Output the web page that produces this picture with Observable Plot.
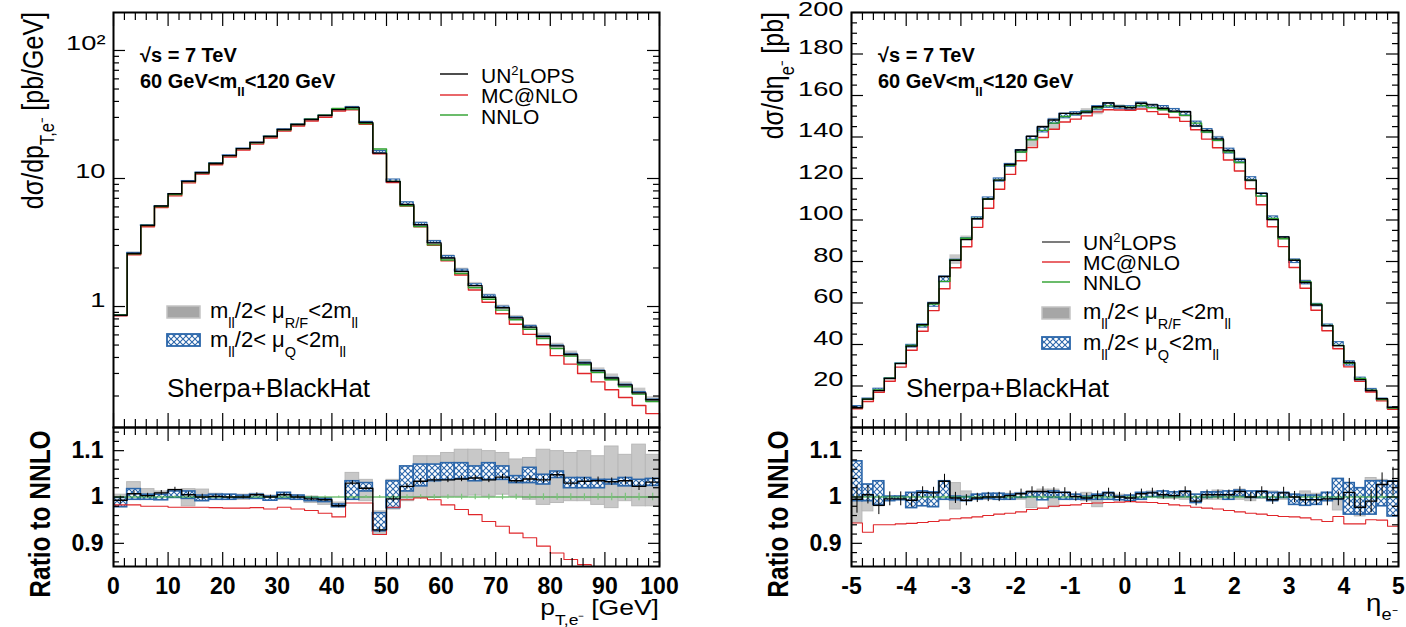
<!DOCTYPE html>
<html><head><meta charset="utf-8">
<script src="https://cdn.jsdelivr.net/npm/d3@7"></script>
<script src="https://cdn.jsdelivr.net/npm/@observablehq/plot@0.6"></script>
<style>
html,body{margin:0;padding:0;background:#fff;}
#root{position:relative;width:1406px;height:627px;overflow:hidden;font-family:"Liberation Sans",Arial,sans-serif;}
#root svg{position:absolute;overflow:visible;}
</style></head><body><div id="root"></div>
<script>
// ---------------- DATA ----------------
// Left: electron transverse momentum, 2.5 GeV bins
const ptEdges = [0,2.5,5,7.5,10,12.5,15,17.5,20,22.5,25,27.5,30,32.5,35,37.5,40,42.5,45,47.5,50,52.5,55,57.5,60,62.5,65,67.5,70,72.5,75,77.5,80,82.5,85,87.5,90,92.5,95,97.5,100];
const ptNNLO = [0.86,2.58,4.29,6.05,7.48,9.45,11.1,13.1,15.1,17.1,19.0,21.3,24.0,26.4,29.0,31.2,35.2,34.9,26.9,17.0,9.5,6.12,4.21,3.03,2.31,1.81,1.40,1.14,0.937,0.788,0.664,0.562,0.470,0.410,0.351,0.305,0.268,0.236,0.207,0.181];
const ptUNratio = [0.993,1.007,1.003,1.009,1.016,1.005,1.000,1.001,1.000,1.000,1.005,1.000,1.005,1.000,0.996,0.994,0.981,1.030,1.019,0.929,0.996,1.023,1.034,1.037,1.037,1.039,1.041,1.037,1.043,1.035,1.039,1.037,1.048,1.030,1.034,1.035,1.033,1.035,1.023,1.032];
const ptMCratio = [0.983,0.983,0.980,0.980,0.978,0.978,0.978,0.977,0.976,0.976,0.977,0.974,0.978,0.974,0.971,0.965,0.957,0.987,0.987,0.919,0.978,0.994,0.998,0.994,0.983,0.973,0.962,0.947,0.937,0.922,0.912,0.894,0.879,0.865,0.854,0.845,0.835,0.825,0.815,0.805];
const ptRFlo = [0.978,0.994,0.994,0.998,1.003,0.980,0.994,0.994,0.996,0.994,0.998,0.993,0.994,0.994,0.987,0.983,0.978,0.998,0.991,0.919,0.973,0.991,0.998,0.998,1.001,1.001,1.003,1.001,1.005,1.001,0.994,0.983,0.987,0.991,0.991,0.983,0.976,0.991,0.980,0.980];
const ptRFhi = [1.005,1.032,1.017,1.012,1.016,1.017,1.016,1.007,1.005,1.005,1.007,1.003,1.009,1.004,1.001,0.998,0.988,1.052,1.037,0.969,1.037,1.066,1.088,1.088,1.095,1.102,1.102,1.099,1.095,1.081,1.084,1.102,1.099,1.095,1.099,1.088,1.109,1.091,1.113,1.091];
const ptQlo = [0.978,0.994,0.994,0.993,0.998,0.996,0.991,0.994,0.994,0.997,0.996,0.992,0.996,0.994,0.991,0.989,0.978,0.994,1.012,0.926,0.976,1.012,1.023,1.034,1.037,1.039,1.034,1.037,1.037,1.030,1.030,1.027,1.041,1.019,1.019,1.019,1.027,1.023,1.023,1.024];
const ptQhi = [0.998,1.017,1.005,1.005,1.012,1.012,1.003,1.005,1.005,1.003,1.005,1.001,1.009,1.003,0.998,0.996,0.984,1.034,1.030,0.965,1.034,1.066,1.070,1.070,1.073,1.073,1.066,1.073,1.066,1.045,1.063,1.048,1.055,1.041,1.041,1.037,1.037,1.041,1.037,1.039];
const ptUNerr = [0.008,0.006,0.005,0.005,0.005,0.006,0.006,0.005,0.005,0.004,0.004,0.004,0.004,0.004,0.004,0.004,0.004,0.005,0.005,0.006,0.006,0.006,0.006,0.006,0.006,0.006,0.006,0.006,0.006,0.006,0.007,0.007,0.007,0.007,0.008,0.008,0.008,0.008,0.009,0.010];
const ptNNerr = [0.004,0.002,0.002,0.002,0.002,0.002,0.002,0.002,0.002,0.002,0.002,0.002,0.002,0.002,0.002,0.002,0.002,0.002,0.003,0.003,0.004,0.005,0.005,0.005,0.005,0.006,0.006,0.006,0.006,0.006,0.006,0.007,0.007,0.007,0.007,0.007,0.008,0.008,0.008,0.008];

// Right: electron pseudorapidity, 0.2 bins
const etaEdges = [-5,-4.8,-4.6,-4.4,-4.2,-4,-3.8,-3.6,-3.4,-3.2,-3,-2.8,-2.6,-2.4,-2.2,-2,-1.8,-1.6,-1.4,-1.2,-1,-0.8,-0.6,-0.4,-0.2,0,0.2,0.4,0.6,0.8,1,1.2,1.4,1.6,1.8,2,2.2,2.4,2.6,2.8,3,3.2,3.4,3.6,3.8,4,4.2,4.4,4.6,4.8,5];
const etaNNLO = [9.6,13.6,18.1,23.7,30.9,39.5,49.1,59.5,70.4,80.8,91.2,100.8,110.1,119.2,126.4,132.8,138.7,143.2,146.7,149.9,151.2,152.3,154.1,155.0,154.7,154.4,155.2,154.1,153.1,152.0,150.4,146.7,142.4,138.4,132.8,127.7,119.2,111.5,100.8,91.0,80.6,70.3,59.4,49.2,39.6,31.0,23.6,18.0,13.5,9.4];
const etaUNratio = [0.995,1.005,0.982,0.996,0.996,0.993,1.010,1.009,1.034,0.998,0.993,0.998,1.000,1.000,1.003,1.007,1.012,1.012,1.010,1.010,1.001,0.998,1.003,1.009,1.000,0.998,1.007,1.009,1.005,1.003,1.012,0.991,1.005,1.005,1.005,1.012,1.000,1.012,0.994,1.009,1.000,0.994,0.994,0.996,0.996,1.010,0.978,0.991,1.027,1.034];
const etaMCratio = [0.944,0.924,0.940,0.940,0.942,0.943,0.945,0.947,0.950,0.953,0.955,0.957,0.960,0.963,0.965,0.968,0.973,0.976,0.980,0.982,0.983,0.986,0.987,0.988,0.989,0.990,0.989,0.988,0.986,0.983,0.981,0.978,0.976,0.974,0.971,0.968,0.965,0.963,0.960,0.958,0.957,0.955,0.951,0.947,0.958,0.942,0.942,0.951,0.950,0.937];
const etaRFlo = [0.944,0.969,0.980,0.993,0.994,0.991,0.991,0.991,0.994,0.973,0.991,0.994,0.994,0.996,0.997,0.994,0.976,0.994,0.978,0.994,0.994,0.991,0.978,0.996,0.994,0.994,0.996,1.000,0.996,0.996,0.994,0.991,0.994,0.994,0.996,0.994,0.991,0.996,0.994,0.994,0.991,0.998,0.993,0.991,0.971,0.969,0.958,0.969,0.994,0.958];
const etaRFhi = [0.994,0.991,1.030,1.000,1.001,1.003,1.005,1.003,1.019,1.030,1.012,1.005,1.005,1.007,1.007,1.009,1.012,1.016,1.016,1.005,1.005,1.009,1.005,1.007,1.005,1.003,1.007,1.012,1.007,1.007,1.009,1.005,1.010,1.014,1.010,1.016,1.005,1.010,1.012,1.009,1.005,1.012,1.007,1.009,1.012,1.016,0.987,1.041,1.037,1.034];
const etaQlo = [0.991,0.991,0.983,0.991,0.993,0.976,0.980,0.978,0.994,0.993,0.991,0.994,0.996,0.994,0.994,0.998,1.000,0.993,0.998,0.994,0.994,0.994,0.994,0.994,0.993,0.991,0.994,1.000,1.000,1.000,1.000,0.987,0.998,1.000,0.994,1.001,0.998,0.998,0.991,0.998,0.983,0.981,0.983,0.991,0.994,0.962,0.962,0.962,0.980,0.958];
const etaQhi = [1.077,1.027,1.034,1.001,1.001,1.009,1.012,1.010,1.034,1.001,1.000,1.005,1.007,1.007,1.005,1.007,1.010,1.010,1.012,1.009,1.005,1.001,1.005,1.009,1.001,1.003,1.009,1.009,1.012,1.010,1.012,1.005,1.010,1.010,1.012,1.014,1.012,1.012,1.009,1.009,1.005,1.003,1.003,1.009,1.039,1.030,1.019,1.034,1.034,1.034];
const etaUNerr = [0.03,0.02,0.02,0.015,0.015,0.015,0.012,0.012,0.015,0.012,0.012,0.01,0.01,0.01,0.01,0.01,0.01,0.01,0.01,0.01,0.01,0.01,0.01,0.01,0.01,0.01,0.01,0.01,0.01,0.01,0.01,0.01,0.01,0.01,0.01,0.01,0.01,0.01,0.01,0.012,0.012,0.012,0.012,0.015,0.015,0.03,0.02,0.025,0.025,0.03];
const etaNNerr = [0.004,0.004,0.004,0.004,0.004,0.004,0.004,0.004,0.004,0.004,0.004,0.004,0.004,0.004,0.004,0.004,0.004,0.004,0.004,0.004,0.004,0.004,0.004,0.004,0.004,0.004,0.004,0.004,0.004,0.004,0.004,0.004,0.004,0.004,0.004,0.004,0.004,0.004,0.004,0.004,0.004,0.004,0.004,0.004,0.004,0.004,0.004,0.004,0.004,0.004];

// tick labels
const ptTicks = [0,10,20,30,40,50,60,70,80,90,100];
const etaTicks = [-5,-4,-3,-2,-1,0,1,2,3,4,5];
const logTicks = [1,10,100];
const logTickLabels = ["1","10","10²"];
const linTicks = [20,40,60,80,100,120,140,160,180,200];
const ratioTicks = [0.9,1,1.1];
const ratioTickLabels = ["0.9","1","1.1"];

// ---------------- STYLE ----------------
const RED = "#e0262a", GREEN = "#2ca02c", BLUE = "#2b66aa";
const FONT = "'Liberation Sans', Arial, sans-serif";
const root = d3.select("#root");

// hatch pattern definition
const defsSvg = root.append("svg").attr("width", 0).attr("height", 0).style("left", "0px").style("top", "0px");
const pat = defsSvg.append("defs").append("pattern").attr("id", "xhatch")
  .attr("patternUnits", "userSpaceOnUse").attr("width", 6).attr("height", 6);
pat.append("rect").attr("width", 6).attr("height", 6).attr("fill", "white");
pat.append("path").attr("d", "M0,0L6,6M6,0L0,6").attr("stroke", BLUE).attr("stroke-width", 1.1).attr("fill", "none");

// helpers (data shaping only)
function stepData(edges, vals) {
  const d = vals.map((v, i) => ({x: edges[i], y: v}));
  d.push({x: edges[vals.length], y: vals[vals.length - 1]});
  return d;
}
function bins(edges, cols) {
  return edges.slice(0, -1).map((e, i) => {
    const o = {x1: e, x2: edges[i + 1], xc: (e + edges[i + 1]) / 2};
    for (const k in cols) o[k] = cols[k][i];
    return o;
  });
}
function tickMarks(o) {
  const s = {stroke: "#000", strokeWidth: 1.2};
  return [
    Plot.ruleX(o.xMaj, {insetTop: o.H - o.xl[0], ...s}),
    Plot.ruleX(o.xMin, {insetTop: o.H - o.xl[1], ...s}),
    Plot.ruleX(o.xMaj, {insetBottom: o.H - o.xl[0], ...s}),
    Plot.ruleX(o.xMin, {insetBottom: o.H - o.xl[1], ...s}),
    Plot.ruleY(o.yMaj, {insetRight: o.W - o.yl[0], ...s}),
    Plot.ruleY(o.yMin, {insetRight: o.W - o.yl[1], ...s}),
    Plot.ruleY(o.yMaj, {insetLeft: o.W - o.yl[0], ...s}),
    Plot.ruleY(o.yMin, {insetLeft: o.W - o.yl[1], ...s})
  ];
}
function place(svg, left) {
  svg.style.position = "absolute"; svg.style.left = left + "px"; svg.style.top = "0px";
  svg.style.maxWidth = "none";
  root.node().appendChild(svg);
}
function stretchText(svg, sel, sx) {
  d3.select(svg).selectAll(sel).each(function () {
    const tr = this.getAttribute("transform") || "";
    const x = +this.getAttribute("x") || 0, y = +this.getAttribute("y") || 0;
    const dy = this.textContent === "200" ? 3 : 0;
    this.removeAttribute("x"); this.removeAttribute("y");
    this.setAttribute("transform", `${tr} translate(${x},${y + dy}) scale(${sx},1)`);
  });
}

// minor tick positions
const ptMinor = d3.range(0, 101, 2).filter(v => v % 10 !== 0);
const etaMinor = d3.range(-50, 51, 2).filter(v => v % 10 !== 0).map(v => v / 10);
const logMinor = [0.2,0.3,0.4,0.5,0.6,0.7,0.8,0.9,2,3,4,5,6,7,8,9,20,30,40,50,60,70,80,90];
const linMinor = d3.range(5, 200, 5).filter(v => v % 20 !== 0);
const ratioMinor = d3.range(86, 115, 2).filter(v => v % 10 !== 0).map(v => v / 100);

function panel(cfg) {
  const b = bins(cfg.edges, {
    nn: cfg.nnlo, un: cfg.unR, mc: cfg.mcR, rfLo: cfg.rfLo, rfHi: cfg.rfHi,
    qLo: cfg.qLo, qHi: cfg.qHi, err: cfg.unErr, nErr: cfg.nnErr
  });
  // top-panel curves: ratio-to-NNLO values times the NNLO values
  const unTop = cfg.nnlo.map((v, i) => v * cfg.unR[i]);
  const mcTop = cfg.nnlo.map((v, i) => v * cfg.mcR[i]);
  const W = cfg.svgW - cfg.mL - cfg.mR;

  const top = Plot.plot({
    width: cfg.svgW, height: 428,
    marginLeft: cfg.mL, marginRight: cfg.mR, marginTop: 12, marginBottom: 1,
    x: {domain: cfg.xDomain, axis: null},
    y: {...cfg.yTop, axis: null},
    style: {background: "transparent", fontFamily: FONT, fontSize: "21px", color: "#000", overflow: "visible"},
    marks: [
      Plot.rect(b, {x1: "x1", x2: "x2", y1: d => d.nn * d.rfLo, y2: d => d.nn * d.rfHi, fill: "#c8c8c8", clip: true}),
      Plot.rect(b, {x1: "x1", x2: "x2", y1: d => d.nn * d.qLo, y2: d => d.nn * d.qHi, fill: "url(#xhatch)", stroke: BLUE, strokeWidth: 1, clip: true}),
      Plot.line(stepData(cfg.edges, mcTop), {x: "x", y: "y", curve: "step-after", stroke: RED, strokeWidth: 1.4, clip: true}),
      Plot.line(stepData(cfg.edges, cfg.nnlo), {x: "x", y: "y", curve: "step-after", stroke: GREEN, strokeWidth: 1.4, clip: true}),
      Plot.line(stepData(cfg.edges, unTop), {x: "x", y: "y", curve: "step-after", stroke: "#000", strokeWidth: 1.4, clip: true}),
      ...tickMarks({xMaj: cfg.xTicks, xMin: cfg.xMinor, yMaj: cfg.yTopTicks, yMin: cfg.yTopMinor, W, H: 415, xl: [14, 8], yl: [12, 6]}),
      Plot.axisY({ticks: cfg.yTopTicks, tickSize: 0, tickPadding: 8, label: null,
        tickFormat: d => cfg.yTopLabels[cfg.yTopTicks.indexOf(d)]}),
      Plot.frame({stroke: "#000", strokeWidth: 2})
    ]
  });
  stretchText(top, 'g[aria-label="y-axis tick label"] text', 1.3);
  place(top, cfg.left);

  const ratio = Plot.plot({
    width: cfg.svgW, height: 627,
    marginLeft: cfg.mL, marginRight: cfg.mR, marginTop: 427, marginBottom: 61,
    x: {domain: cfg.xDomain, axis: null},
    y: {domain: [0.85, 1.15], axis: null},
    style: {background: "transparent", fontFamily: FONT, fontSize: "23px", color: "#000", overflow: "visible"},
    marks: [
      Plot.rect(b, {x1: "x1", x2: "x2", y1: "rfLo", y2: "rfHi", fill: "#c8c8c8", stroke: "#b8b8b8", strokeWidth: 1, clip: true}),
      Plot.rect(b, {x1: "x1", x2: "x2", y1: "qLo", y2: "qHi", fill: "url(#xhatch)", stroke: BLUE, strokeWidth: 1.6, clip: true}),
      Plot.line(stepData(cfg.edges, cfg.edges.slice(0, -1).map(() => 1)), {x: "x", y: "y", curve: "step-after", stroke: GREEN, strokeWidth: 1}),
      Plot.ruleX(b, {x: "xc", y1: d => 1 - d.nErr, y2: d => 1 + d.nErr, stroke: "#7cc47c", strokeWidth: 1.2}),
      Plot.line(stepData(cfg.edges, cfg.mcR), {x: "x", y: "y", curve: "step-after", stroke: RED, strokeWidth: 1.1, clip: true}),
      Plot.line(stepData(cfg.edges, cfg.unR), {x: "x", y: "y", curve: "step-after", stroke: "#000", strokeWidth: 1.4, clip: true}),
      Plot.ruleX(b, {x: "xc", y1: d => d.un - d.err, y2: d => d.un + d.err, stroke: "#000", strokeWidth: 1, clip: true}),
      ...tickMarks({xMaj: cfg.xTicks, xMin: cfg.xMinor, yMaj: ratioTicks, yMin: ratioMinor, W, H: 139, xl: [14, 8], yl: [11, 6]}),
      Plot.axisY({ticks: ratioTicks, tickSize: 0, tickPadding: 10, label: null, fontWeight: "bold",
        tickFormat: d => ratioTickLabels[ratioTicks.indexOf(d)]}),
      Plot.axisX({ticks: cfg.xTicks, tickSize: 0, tickPadding: 11, label: null, fontWeight: "bold", tickFormat: d => String(d)}),
      Plot.frame({stroke: "#000", strokeWidth: 2})
    ]
  });
  place(ratio, cfg.left);
}

panel({
  left: 0, svgW: 700, mL: 113, mR: 41, xDomain: [0, 100],
  edges: ptEdges, nnlo: ptNNLO, unR: ptUNratio, mcR: ptMCratio,
  rfLo: ptRFlo, rfHi: ptRFhi, qLo: ptQlo, qHi: ptQhi, unErr: ptUNerr, nnErr: ptNNerr,
  xTicks: ptTicks, xMinor: ptMinor,
  yTop: {type: "log", domain: [0.1135, 198]},
  yTopTicks: logTicks, yTopMinor: logMinor, yTopLabels: logTickLabels
});
panel({
  left: 700, svgW: 706, mL: 151, mR: 8, xDomain: [-5, 5],
  edges: etaEdges, nnlo: etaNNLO, unR: etaUNratio, mcR: etaMCratio,
  rfLo: etaRFlo, rfHi: etaRFhi, qLo: etaQlo, qHi: etaQhi, unErr: etaUNerr, nnErr: etaNNerr,
  xTicks: etaTicks, xMinor: etaMinor,
  yTop: {type: "linear", domain: [0, 200]},
  yTopTicks: linTicks, yTopMinor: linMinor, yTopLabels: linTicks.map(String)
});

// ---------------- TEXT / LEGENDS ----------------
const ov = root.append("svg").attr("width", 1406).attr("height", 627)
  .style("left", "0px").style("top", "0px").style("font-family", FONT).style("pointer-events", "none");

function txt(x, y, parts, size, opt = {}) {
  const t = ov.append("text").attr("font-size", size).attr("fill", "#000")
    .attr("font-weight", opt.bold ? "bold" : "normal")
    .attr("text-anchor", opt.anchor || "start");
  const rot = opt.rotate ? " rotate(-90)" : "";
  t.attr("x", 0).attr("y", 0).attr("transform", `translate(${x},${y}) scale(${opt.sx || 1},1)${rot}`);
  let shift = 0;
  for (const p of parts) {
    const [s, kind] = Array.isArray(p) ? p : [p, "n"];
    let target = 0, fs = size;
    if (kind === "sub") { target = size * (opt.subDy || 0.38); fs = size * 0.66; }
    if (kind === "sup") { target = -size * 0.4; fs = size * 0.62; }
    t.append("tspan").attr("dy", target - shift).attr("font-size", fs).text(s);
    shift = target;
  }
  return t;
}
function legendLine(x1, x2, y, color) {
  ov.append("line").attr("x1", x1).attr("x2", x2).attr("y1", y).attr("y2", y).attr("stroke", color).attr("stroke-width", 1.4);
}
function swatch(x, y, w, h, kind) {
  if (kind === "rf") ov.append("rect").attr("x", x).attr("y", y).attr("width", w).attr("height", h).attr("fill", "#a6a6a6").attr("stroke", "#c4c4c4").attr("stroke-width", 1.5);
  else ov.append("rect").attr("x", x).attr("y", y).attr("width", w).attr("height", h).attr("fill", "url(#xhatch)").attr("stroke", BLUE).attr("stroke-width", 1.8);
}

const seriesNames = ["UN", "MC@NLO", "NNLO"];
function annotations(o) {
  txt(o.ax, 62, ["√s = 7 TeV"], 20, {bold: true});
  txt(o.ax, 88, ["60 GeV<m", ["ll", "sub"], "<120 GeV"], 20, {bold: true});
  legendLine(o.lx1, o.lx2, o.ly[0], o.unColor); legendLine(o.lx1, o.lx2, o.ly[1], RED); legendLine(o.lx1, o.lx2, o.ly[2], GREEN);
  txt(o.tx, o.tb[0], [seriesNames[0], ["2", "sup"], "LOPS"], 21);
  txt(o.tx, o.tb[1], [seriesNames[1]], 21);
  txt(o.tx, o.tb[2], [seriesNames[2]], 21);
  swatch(o.sx, o.sy[0], o.sw, 12, "rf");
  swatch(o.sx, o.sy[1], o.sw, 12, "q");
  txt(o.stx, o.sy[0] + 12, ["m", ["ll", "sub"], "/2< μ", ["R/F", "sub"], "<2m", ["ll", "sub"]], 22, {subDy: 0.45});
  txt(o.stx, o.sy[1] + 13, ["m", ["ll", "sub"], "/2< μ", ["Q", "sub"], "<2m", ["ll", "sub"]], 22, {subDy: 0.45});
  txt(o.sherpaX, 397, ["Sherpa+BlackHat"], 26);
}
annotations({ax: 140, lx1: 440, lx2: 468, ly: [74, 95, 115], tb: [83, 103, 124], tx: 481, unColor: "#000",
  sx: 167, sw: 33, sy: [306, 334], stx: 210, sherpaX: 167});
annotations({ax: 878, lx1: 1042, lx2: 1070, ly: [242, 262, 282], tb: [250, 270, 290], tx: 1083, unColor: "#444",
  sx: 1042, sw: 28, sy: [307, 337], stx: 1083, sherpaX: 906});

// axis titles
txt(43, 12, ["dσ/dp", ["T,e⁻", "sub"], " [pb/GeV]"], 25, {rotate: true, anchor: "end", sx: 1.2});
txt(783, 12, ["dσ/dη", ["e⁻", "sub"], " [pb]"], 25, {rotate: true, anchor: "end", sx: 1.2});
txt(50, 514, ["Ratio to NNLO"], 24.5, {rotate: true, anchor: "middle", sx: 1.2, bold: true});
txt(788, 514, ["Ratio to NNLO"], 24.5, {rotate: true, anchor: "middle", sx: 1.2, bold: true});
txt(659, 615, ["p", ["T,e⁻", "sub"], " [GeV]"], 22.5, {anchor: "end", sx: 1.18, subDy: 0.45});
txt(1398, 611, ["η", ["e⁻", "sub"]], 24, {anchor: "end", sx: 1.15});
</script></body></html>
